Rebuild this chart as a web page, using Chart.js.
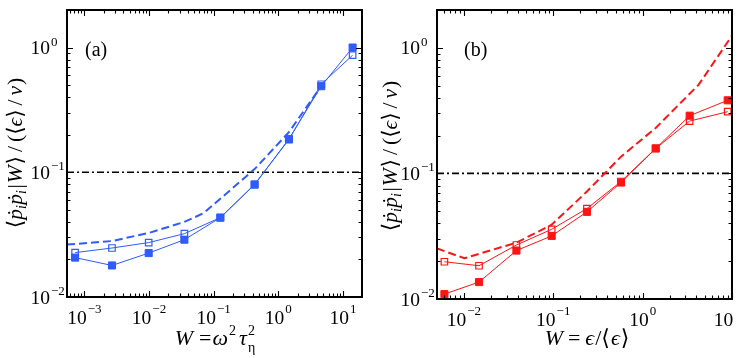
<!DOCTYPE html>
<html><head><meta charset="utf-8">
<script src="https://cdn.jsdelivr.net/npm/chart.js@4.4.0/dist/chart.umd.min.js"></script>
<style>
html,body{margin:0;padding:0;background:#fff;}
#wrap{position:relative;width:748px;height:358px;overflow:hidden;background:#fff;}
.cell{position:absolute;top:0;width:374px;height:358px;}
</style></head><body>
<div id="wrap">
<div class="cell" style="left:0"><canvas id="c1" width="374" height="358"></canvas></div>
<div class="cell" style="left:374px"><canvas id="c2" width="374" height="358"></canvas></div>
</div>
<script>
// ---------- data: panel (a) ----------
const aX      = [7.2e-4, 2.68e-3, 9.9e-3, 0.0353, 0.127, 0.43, 1.46, 4.62, 14.1];
const aFilled = [0.0207, 0.0179, 0.0225, 0.0288, 0.0433, 0.0796, 0.185, 0.49, 1.0];
const aOpen   = [0.0227, 0.0247, 0.0273, 0.0322, 0.0433, 0.080, 0.183, 0.508, 0.868];
const aDashX  = [5.4e-4, 2.68e-3, 9.9e-3, 0.0353, 0.070, 0.43, 1.46, 4.62];
const aDashY  = [0.0263, 0.0281, 0.0326, 0.040, 0.047, 0.106, 0.21, 0.49];
// ---------- data: panel (b) ----------
const bX      = [6.05e-3, 0.01476, 0.0387, 0.096, 0.238, 0.573, 1.40, 3.36, 8.95];
const bFilled = [0.01094, 0.01364, 0.0243, 0.0318, 0.0494, 0.0846, 0.158, 0.288, 0.382];
const bOpen   = [0.0198, 0.0184, 0.0269, 0.0359, 0.0525, 0.0862, 0.158, 0.261, 0.310];
const bDashX  = [0.005, 0.0101, 0.0387, 0.096, 0.238, 0.573, 1.40, 4.24, 10];
const bDashY  = [0.0253, 0.0211, 0.0281, 0.039, 0.0717, 0.136, 0.23, 0.509, 1.25];
const refLevel = 0.1;
// ---------- axes / tick labels ----------
const aXRange = [5.4e-4, 19.7];
const bXRange = [0.005, 10];
const yRange  = [0.01, 2];
const aXTicks = [1e-3, 1e-2, 1e-1, 1, 10];
const aXTickExp = ['\u22123', '\u22122', '\u22121', '0', '1'];
const bXTicks = [1e-2, 1e-1, 1, 10];
const bXTickExp = ['\u22122', '\u22121', '0', ''];
const yTicks = [1e-2, 1e-1, 1];
const yTickExp = ['\u22122', '\u22121', '0'];

const BLUE = '#2f5bff';
const RED = '#ff1414';
const SERIF = '"Liberation Serif","DejaVu Serif","Times New Roman",serif';
function font(sz, it){ return (it ? 'italic ' : '') + sz + 'px ' + SERIF; }

function segW(ctx, s){
  ctx.font = font(s.size, s.it);
  if (s.stack) return Math.max(ctx.measureText(s.stack[0]).width, ctx.measureText(s.stack[1]).width) + (s.gap || 0);
  return ctx.measureText(s.t).width + (s.gap || 0);
}
function drawRich(ctx, segs, x, y, align){
  let w = 0; for (const s of segs) w += segW(ctx, s);
  let cx = align === 'center' ? x - w / 2 : align === 'right' ? x - w : x;
  ctx.textAlign = 'left'; ctx.textBaseline = 'alphabetic';
  for (const s of segs){
    ctx.font = font(s.size, s.it);
    if (s.stack){
      ctx.fillText(s.stack[0], cx, y + s.dy[0]);
      ctx.fillText(s.stack[1], cx, y + s.dy[1]);
    } else ctx.fillText(s.t, cx + (s.pre || 0), y + (s.dy || 0));
    cx += segW(ctx, s);
  }
  return w;
}

function logTicks(min, max){
  const out = [];
  for (let n = Math.floor(Math.log10(min)) - 1; n <= Math.ceil(Math.log10(max)); n++){
    for (let m = 1; m <= 9; m++){
      const v = m * Math.pow(10, n);
      if (v >= min * 0.9999 && v <= max * 1.0001) out.push({v, major: m === 1});
    }
  }
  return out;
}

const TICK_FS = 19.5, EXP_FS = 13;
const framePlugin = {
  id: 'frame',
  afterDraw(chart, args, o){
    const {ctx, chartArea: a} = chart;
    const xs = chart.scales.x, ys = chart.scales.y;
    ctx.save();
    ctx.strokeStyle = '#000'; ctx.fillStyle = '#000';
    ctx.lineWidth = 1.1;
    ctx.beginPath();
    for (const t of logTicks(xs.min, xs.max)){
      const px = Math.round(xs.getPixelForValue(t.v)) + 0.5;
      const L = t.major ? 6 : 3.5;
      ctx.moveTo(px, a.bottom); ctx.lineTo(px, a.bottom - L);
      ctx.moveTo(px, a.top); ctx.lineTo(px, a.top + L);
    }
    for (const t of logTicks(ys.min, ys.max)){
      const py = Math.round(ys.getPixelForValue(t.v)) + 0.5;
      const L = t.major ? 6 : 3.5;
      ctx.moveTo(a.left, py); ctx.lineTo(a.left + L, py);
      ctx.moveTo(a.right, py); ctx.lineTo(a.right - L, py);
    }
    ctx.stroke();
    ctx.lineWidth = 2;
    ctx.strokeRect(a.left, a.top, a.right - a.left, a.bottom - a.top);

    // x tick labels
    o.xTicks.forEach((v, i) => {
      const px = xs.getPixelForValue(v);
      const exp = o.xExp[i];
      ctx.font = font(TICK_FS); const w1 = ctx.measureText('10').width;
      ctx.font = font(EXP_FS); const w2 = exp ? ctx.measureText(exp).width + 1 : (o.lastShift || 0);
      const start = px - (w1 + w2) / 2;
      drawRich(ctx, [{t:'10', size:TICK_FS}, {t:exp, size:EXP_FS, dy:-11, pre:1}], start, a.bottom + 27, 'left');
    });
    // y tick labels
    o.yTicks.forEach((v, i) => {
      const py = ys.getPixelForValue(v);
      const right = a.left - 17;
      ctx.font = font(TICK_FS); ctx.textAlign = 'right'; ctx.textBaseline = 'alphabetic';
      ctx.fillText('10', right, py + 6.5);
      ctx.font = font(EXP_FS); ctx.textAlign = 'left';
      ctx.fillText(o.yExp[i], right + 1, py - 2);
    });
    // x axis title
    drawRich(ctx, o.xTitle, o.xTitlePos[0], o.xTitlePos[1], 'center');
    // y axis title (rotated)
    ctx.save();
    ctx.translate(o.yTitlePos[0], o.yTitlePos[1]);
    ctx.rotate(-Math.PI / 2);
    drawRich(ctx, o.yTitle, 0, 0, 'center');
    ctx.restore();
    // panel tag
    ctx.font = font(20); ctx.textAlign = 'left'; ctx.textBaseline = 'alphabetic';
    ctx.fillText(o.tag, o.tagPos[0], o.tagPos[1]);
    ctx.restore();
  }
};

function yTitleSegs(){
  const S = 21.5, s = 14;
  return [
    {t:'\u27E8', size:S},
    {t:'\u1E57', size:S, it:true},
    {t:'i', size:s, it:true, dy:4, gap:0.5},
    {t:'\u1E57', size:S, it:true},
    {t:'i', size:s, it:true, dy:4, gap:1.5},
    {t:'|', size:S, gap:1},
    {t:'W', size:S, it:true, gap:1},
    {t:'\u27E9', size:S, gap:4},
    {t:'/', size:S, gap:4},
    {t:'(\u27E8', size:S},
    {t:'\u03F5', size:S, it:true},
    {t:'\u27E9', size:S, gap:4},
    {t:'/', size:S, gap:4},
    {t:'\u03BD', size:S, it:true, gap:1},
    {t:')', size:S}
  ];
}

function makeChart(id, cfg){
  const pts = (xs, ys) => xs.map((x, i) => ({x, y: ys[i]}));
  return new Chart(document.getElementById(id), {
    type: 'line',
    data: {
      datasets: [
        {data: pts(cfg.x, cfg.filled), borderColor: cfg.color, backgroundColor: cfg.color, borderWidth: 1,
         pointStyle: 'rect', pointRadius: 5, pointBorderWidth: 1, pointBackgroundColor: cfg.color, pointBorderColor: cfg.color},
        {data: pts(cfg.x, cfg.open), borderColor: cfg.color, backgroundColor: 'rgba(0,0,0,0)', borderWidth: 1,
         pointStyle: 'rect', pointRadius: 4.6, pointBorderWidth: 1.2, pointBackgroundColor: 'rgba(0,0,0,0)', pointBorderColor: cfg.color},
        {data: pts(cfg.dashX, cfg.dashY), borderColor: cfg.color, borderWidth: 2, borderDash: [8, 4], pointRadius: 0},
        {data: [{x: cfg.xRange[0], y: refLevel}, {x: cfg.xRange[1], y: refLevel}], borderColor: '#000', borderWidth: 1.6,
         borderDash: [7, 3, 2, 3], pointRadius: 0}
      ]
    },
    options: {
      responsive: false, animation: false, devicePixelRatio: 1,
      layout: {padding: cfg.pad},
      scales: {
        x: {type: 'logarithmic', min: cfg.xRange[0], max: cfg.xRange[1], display: false},
        y: {type: 'logarithmic', min: yRange[0], max: yRange[1], display: false}
      },
      plugins: {legend: {display: false}, tooltip: {enabled: false},
        frame: cfg.frame}
    },
    plugins: [framePlugin]
  });
}

makeChart('c1', {
  x: aX, filled: aFilled, open: aOpen, dashX: aDashX, dashY: aDashY, color: BLUE, xRange: aXRange,
  pad: {left: 67, right: 12, top: 10, bottom: 61},
  frame: {
    xTicks: aXTicks, xExp: aXTickExp, yTicks: yTicks, yExp: yTickExp,
    xTitle: [{t:'W', size:22, it:true, gap:6}, {t:'=', size:22, gap:1}, {t:'\u03C9', size:22, it:true, gap:1}, {t:'2', size:14, dy:-10, gap:3},
             {t:'\u03C4', size:22, it:true, gap:1}, {stack:['2', '\u03B7'], size:14, it:false, dy:[-10, 7]}],
    xTitlePos: [215, 345],
    yTitle: yTitleSegs(), yTitlePos: [22, 153],
    tag: '(a)', tagPos: [85, 56]
  }
});
makeChart('c2', {
  x: bX, filled: bFilled, open: bOpen, dashX: bDashX, dashY: bDashY, color: RED, xRange: bXRange,
  pad: {left: 63, right: 16, top: 10, bottom: 59},
  frame: {
    xTicks: bXTicks, xExp: bXTickExp, yTicks: yTicks, yExp: yTickExp, lastShift: 17,
    xTitle: [{t:'W', size:22, it:true, gap:5}, {t:'=', size:22, gap:5}, {t:'\u03F5', size:22, it:true, gap:1}, {t:'/\u27E8', size:22, gap:1},
             {t:'\u03F5', size:22, it:true, gap:1}, {t:'\u27E9', size:22}],
    xTitlePos: [213, 345],
    yTitle: yTitleSegs(), yTitlePos: [23, 156],
    tag: '(b)', tagPos: [90, 56]
  }
});
</script>
</body></html>
